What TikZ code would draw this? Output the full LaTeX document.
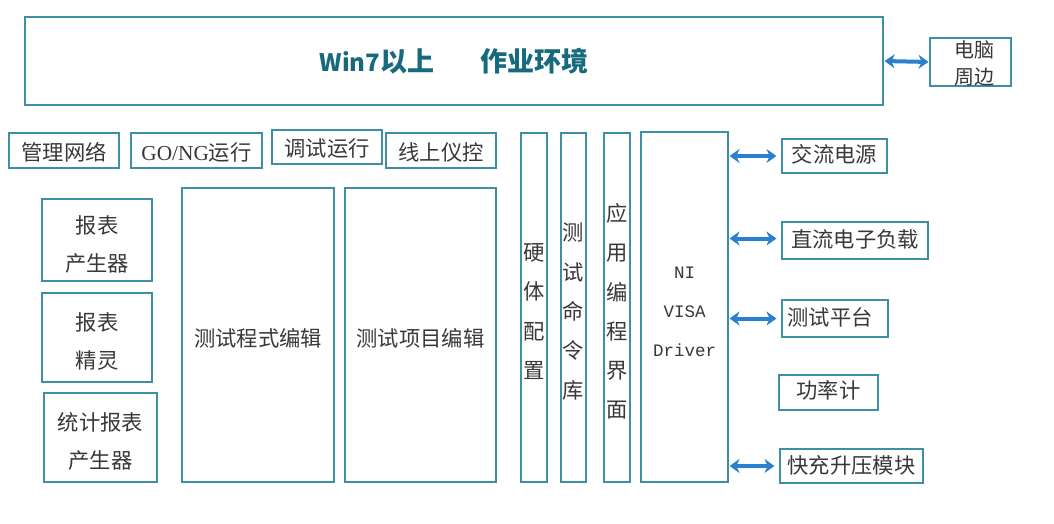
\documentclass[tikz,border=0pt]{standalone}
\usepackage{fontspec}
\setmainfont{Noto Sans CJK SC}
\newfontfamily\monof{Liberation Mono}
\newfontfamily\serif{Liberation Serif}
\usetikzlibrary{arrows.meta}
\definecolor{boxline}{HTML}{3D8FA6}
\definecolor{txt}{HTML}{383838}
\definecolor{titlec}{HTML}{17697D}
\definecolor{arr}{HTML}{2A7FCF}
\tikzset{
  bx/.style={draw=boxline, line width=1.1pt, inner sep=0pt, text=txt,
    font=\fontsize{21.3}{38}\selectfont, align=center},
  tx/.style={inner sep=0pt, text=txt, align=center, font=\fontsize{21.3}{38}\selectfont},
  vtx/.style={tx, font=\fontsize{21.3}{39.3}\selectfont},
  link/.style={draw=arr, line width=4pt, {Stealth[length=10pt,width=14pt]}-{Stealth[length=10pt,width=14pt]}, shorten >=5pt, shorten <=1pt}
}
\begin{document}
\begin{tikzpicture}[x=1pt,y=-1pt]
\useasboundingbox (0,0) rectangle (1054,524);
% top
\node[bx, minimum width=858pt, minimum height=88pt, text=titlec,
  font=\fontsize{27}{30}\selectfont\bfseries] (top) at (454,61)
  {{\fontsize{24}{30}\selectfont\bfseries Win7}以上\hspace{46pt}作业环境};
\node[bx, minimum width=81pt, minimum height=48pt] (pc) at (970.5,62) {};
\node[tx, font=\fontsize{20}{27}\selectfont] (pct) at (974,63) {电脑\\周边};
% row 2
\node[bx, minimum width=110pt, minimum height=35pt] (gl) at (64,150.5) {};
\node[tx] (glt) at ([yshift=-2pt]gl.center) {管理网络};
\node[bx, minimum width=131pt, minimum height=35pt] (go) at (196.5,150.5) {};
\node[tx] (got) at ([yshift=-2pt]go.center) {{\serif GO/NG}运行};
\node[bx, minimum width=110pt, minimum height=34pt] (ts) at (327,147) {};
\node[tx] (tst) at ([yshift=-1pt]ts.center) {调试运行};
\node[bx, minimum width=110pt, minimum height=35pt] (xs) at (441,150.5) {};
\node[tx] (xst) at ([yshift=-2pt]xs.center) {线上仪控};
% left column
\node[bx, minimum width=110pt, minimum height=82pt] (bb1) at (97,240) {};
\node[tx] (bb1t) at ([yshift=-4pt]bb1.center) {报表\\产生器};
\node[bx, minimum width=110pt, minimum height=89pt] (bb2) at (97,337.5) {};
\node[tx] (bb2t) at ([yshift=-4pt]bb2.center) {报表\\精灵};
\node[bx, minimum width=113pt, minimum height=89pt] (bb3) at (100.5,437.5) {};
\node[tx] (bb3t) at ([yshift=-4pt]bb3.center) {统计报表\\产生器};
\node[bx, minimum width=152pt, minimum height=294pt] (cs) at (258,335) {};
\node[tx] (cst) at ([yshift=-3pt]cs.center) {测试程式编辑};
\node[bx, minimum width=151pt, minimum height=294pt] (xm) at (420.5,335) {};
\node[tx] (xmt) at ([yshift=-3pt]xm.center) {测试项目编辑};
% vertical boxes
\node[bx, minimum width=26pt, minimum height=349pt] (hw) at (534,307.5) {};
\node[vtx] (hwt) at ([yshift=-4pt]hw.center) {硬\\体\\配\\置};
\node[bx, minimum width=25pt, minimum height=349pt] (cmd) at (573.5,307.5) {};
\node[vtx] (cmdt) at ([yshift=-4pt]cmd.center) {测\\试\\命\\令\\库};
\node[bx, minimum width=26pt, minimum height=349pt] (api) at (617,307.5) {};
\node[vtx] (apit) at ([yshift=-4pt]api.center) {应\\用\\编\\程\\界\\面};
\node[bx, minimum width=87pt, minimum height=350pt] (ni) at (684.5,307) {};
\node[tx, font=\monof\fontsize{17.5}{39}\selectfont] (nit) at ([yshift=-5pt]ni.center) {NI\\VISA\\Driver};
% instruments
\node[bx, minimum width=105pt, minimum height=34pt] (ac) at (834.5,156) {};
\node[tx] (act) at ([yshift=2pt]ac.center) {交流电源};
\node[bx, minimum width=146pt, minimum height=37pt] (dc) at (855,240.5) {};
\node[tx] (dct) at ([yshift=1pt]dc.center) {直流电子负载};
\node[bx, minimum width=106pt, minimum height=37pt] (pt) at (835,318.5) {};
\node[tx] (ptt) at ([xshift=-5pt,yshift=1pt]pt.center) {测试平台};
\node[bx, minimum width=99pt, minimum height=35pt] (pm) at (828.5,392.5) {};
\node[tx] (pmt) at ([yshift=2pt]pm.center) {功率计};
\node[bx, minimum width=143pt, minimum height=34pt] (fc) at (851.5,466) {};
\node[tx] (fct) at ([yshift=1pt]fc.center) {快充升压模块};
% connectors
\draw[link, shorten >=1pt] (top.east) -- (pc.west);
\draw[link] (ni.east |- ac.west) -- (ac.west);
\draw[link] ([yshift=2pt]ni.east |- dc.west) -- ([yshift=2pt]dc.west);
\draw[link] (ni.east |- pt.west) -- (pt.west);
\draw[link] (ni.east |- fc.west) -- (fc.west);
\end{tikzpicture}
\end{document}
